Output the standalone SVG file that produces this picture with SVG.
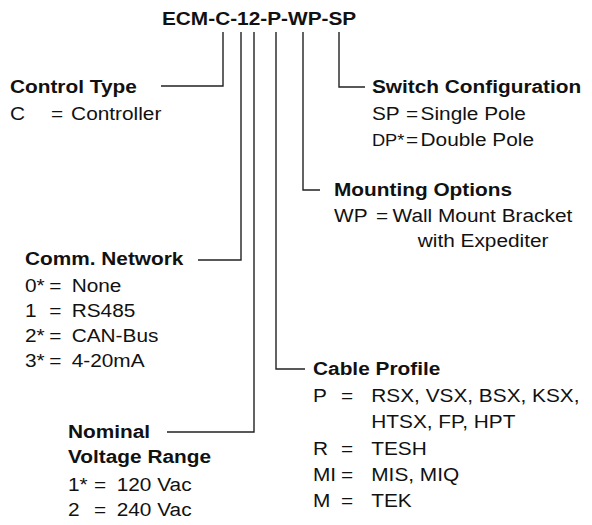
<svg xmlns="http://www.w3.org/2000/svg" width="592" height="525" viewBox="0 0 592 525">
<style>
text{font-family:"Liberation Sans",Arial,Helvetica,sans-serif;font-size:18.6px;fill:#111}
.b{font-weight:bold}
.ln{fill:none;stroke:#222;stroke-width:1.4}
</style>
<rect width="592" height="525" fill="#fff"/>
<g id="connectors">
<path class="ln" d="M223,32V86H161"/>
<path class="ln" d="M241,32V260H198"/>
<path class="ln" d="M254,32V432H167"/>
<path class="ln" d="M276,32V369H305"/>
<path class="ln" d="M303,32V190H320"/>
<path class="ln" d="M339,32V87H365"/>
</g>
<g id="title" transform="scale(1.12,1)">
<text class="b" x="144.6" y="25.5">ECM-C-12-P-WP-SP</text>
</g>
<g id="control-type" transform="scale(1.12,1)">
<text class="b" x="8.9" y="93">Control Type</text>
<text x="8.9" y="120.5">C</text><text x="45.5" y="120.5">=</text><text x="63.5" y="120.5">Controller</text>
</g>
<g id="switch-configuration" transform="scale(1.12,1)">
<text class="b" x="332.1" y="93">Switch Configuration</text>
<text x="332.1" y="120.5">SP</text><text x="362.5" y="120.5">=</text><text x="375.5" y="120.5">Single Pole</text>
<text x="332.1" y="146" style="font-size:16.3px">DP*</text><text x="362.5" y="146">=</text><text x="375.5" y="146">Double Pole</text>
</g>
<g id="mounting-options" transform="scale(1.12,1)">
<text class="b" x="298.2" y="196">Mounting Options</text>
<text x="298.2" y="222">WP</text><text x="335.7" y="222">=</text><text x="350.5" y="222">Wall Mount Bracket</text>
<text x="373" y="247">with Expediter</text>
</g>
<g id="comm-network" transform="scale(1.12,1)">
<text class="b" x="22.3" y="265">Comm. Network</text>
<text x="22.3" y="292.5">0*</text><text x="44" y="292.5">=</text><text x="64" y="292.5">None</text>
<text x="22.3" y="317.5">1</text><text x="44" y="317.5">=</text><text x="64" y="317.5">RS485</text>
<text x="22.3" y="342.5">2*</text><text x="44" y="342.5">=</text><text x="64" y="342.5">CAN-Bus</text>
<text x="22.3" y="367.5">3*</text><text x="44" y="367.5">=</text><text x="64" y="367.5">4-20mA</text>
</g>
<g id="cable-profile" transform="scale(1.12,1)">
<text class="b" x="279.5" y="375">Cable Profile</text>
<text x="279.5" y="402">P</text><text x="304.5" y="402">=</text><text x="331.5" y="402">RSX, VSX, BSX, KSX,</text>
<text x="331.5" y="428">HTSX, FP, HPT</text>
<text x="279.5" y="455">R</text><text x="304.5" y="455">=</text><text x="331.5" y="455">TESH</text>
<text x="279.5" y="481">MI</text><text x="304.5" y="481">=</text><text x="331.5" y="481">MIS, MIQ</text>
<text x="279.5" y="507">M</text><text x="304.5" y="507">=</text><text x="331.5" y="507">TEK</text>
</g>
<g id="nominal-voltage" transform="scale(1.12,1)">
<text class="b" x="60.7" y="438">Nominal</text>
<text class="b" x="60.7" y="463">Voltage Range</text>
<text x="60.7" y="491">1*</text><text x="84" y="491">=</text><text x="104.2" y="491">120 Vac</text>
<text x="60.7" y="516">2</text><text x="84" y="516">=</text><text x="104.2" y="516">240 Vac</text>
</g>
</svg>
